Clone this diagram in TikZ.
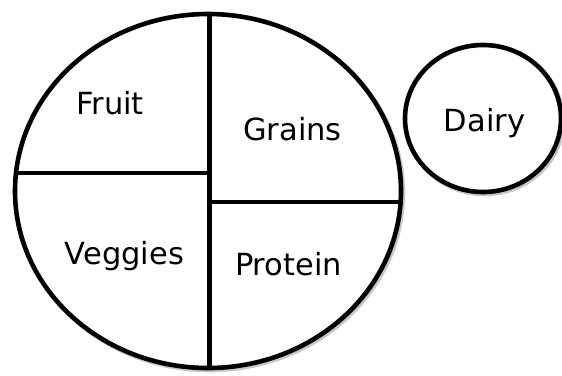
\documentclass[tikz,border=0pt]{standalone}
\usepackage{fontspec}
\setmainfont{DejaVu Sans}
\begin{document}
\begin{tikzpicture}[x=1pt,y=-1pt,
  outline/.style={line width=4.6pt,black},
  shadowline/.style={line width=4.6pt,black!22,shift={(1.8,2)}},
  lbl/.style={anchor=base,inner sep=0pt,font=\fontsize{30.5}{36}\selectfont}]
\useasboundingbox[fill=white] (0,0) rectangle (562,375);
% named points
\coordinate (top) at (209.5,14);
\coordinate (bot) at (209.5,368);
\coordinate (lw) at (16,173);
\coordinate (lm) at (209.5,173);
\coordinate (rm) at (209.5,202);
\coordinate (re) at (400,202);
% shadows
\draw[shadowline] (208,191) ellipse [x radius=193,y radius=177];
\draw[shadowline] (483,118.5) ellipse [x radius=78,y radius=73.5];
\draw[shadowline] (top) -- (bot);
\draw[shadowline] (lw) -- (lm);
\draw[shadowline] (rm) -- (re);
% outlines
\draw[outline,fill=white] (208,191) ellipse [x radius=193,y radius=177];
\draw[outline,fill=white] (483,118.5) ellipse [x radius=78,y radius=73.5];
\draw[outline] (top) -- (bot);
\draw[outline] (lw) -- (lm);
\draw[outline] (rm) -- (re);
% labels
\node[lbl] (fruit) at (110,114) {Fruit};
\node[lbl] (grains) at (292.5,140) {Grains};
\node[lbl] (dairy) at (484.5,131) {Dairy};
\node[lbl] (veggies) at (124.5,264) {Veggies};
\node[lbl] (protein) at (288.5,275) {Protein};
\end{tikzpicture}
\end{document}
